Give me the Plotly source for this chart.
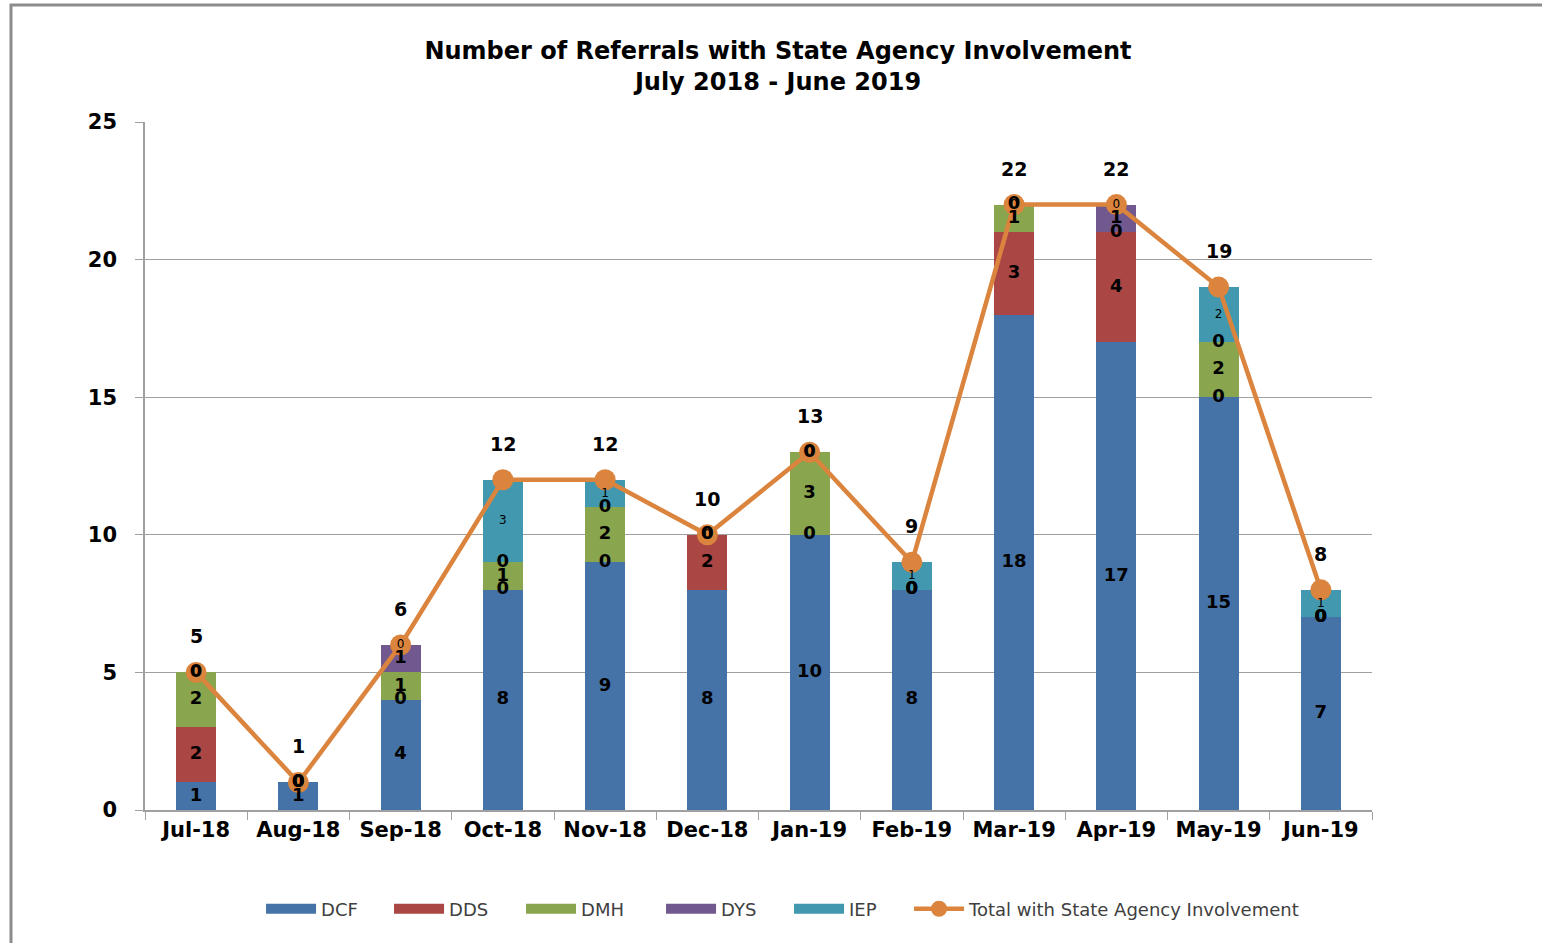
import plotly.graph_objects as go

months = ["Jul-18", "Aug-18", "Sep-18", "Oct-18", "Nov-18", "Dec-18",
          "Jan-19", "Feb-19", "Mar-19", "Apr-19", "May-19", "Jun-19"]
dcf = [1, 1, 4, 8, 9, 8, 10, 8, 18, 17, 15, 7]
dds = [2, 0, 0, 0, 0, 2, 0, 0, 3, 4, 0, 0]
dmh = [2, 0, 1, 1, 2, 0, 3, 0, 1, 0, 2, 0]
dys = [0, 0, 1, 0, 0, 0, 0, 0, 0, 1, 0, 0]
iep = [0, 0, 0, 3, 1, 0, 0, 1, 0, 0, 2, 1]
total = [5, 1, 6, 12, 12, 10, 13, 9, 22, 22, 19, 8]
y_ticks = [0, 5, 10, 15, 20, 25]

series = [("DCF", dcf, "#4572A7"), ("DDS", dds, "#AA4643"), ("DMH", dmh, "#89A54E"),
          ("DYS", dys, "#71588F"), ("IEP", iep, "#4198AF")]
legend_widths = {"DCF": 63, "DDS": 67, "DMH": 75, "DYS": 63, "IEP": 55}
LINE_COLOR = "#DB843D"

FONT = "DejaVu Sans"
fig = go.Figure()

base = [0] * len(months)
label_traces = []
for name, vals, color in series:
    fig.add_trace(go.Bar(x=months, y=vals, name=name, marker_color=color,
                         marker_line_width=0, showlegend=False, legendgroup=name))
    # legend proxy with a wide swatch
    fig.add_trace(go.Scatter(x=[None], y=[None], mode="lines", name=name,
                             line=dict(color=color, width=10), legendgroup=name,
                             legendwidth=legend_widths[name], hoverinfo="skip"))
    mids = [b + v / 2 for b, v in zip(base, vals)]
    small = name == "IEP"
    label_traces.append(go.Scatter(
        x=months, y=mids, mode="text", text=[str(v) for v in vals],
        textfont=dict(family=FONT, size=12 if small else 18, color="#000000",
                      weight="normal" if small else "bold"),
        showlegend=False, hoverinfo="skip", cliponaxis=False))
    base = [b + v for b, v in zip(base, vals)]

fig.add_trace(go.Scatter(x=months, y=total, mode="lines+markers",
                         name="Total with State Agency Involvement",
                         line=dict(color=LINE_COLOR, width=4.5),
                         marker=dict(size=21, color=LINE_COLOR), cliponaxis=False))
for t in label_traces:
    fig.add_trace(t)

for m, t in zip(months, total):
    fig.add_annotation(x=m, y=t, text=str(t), showarrow=False, yshift=36,
                       font=dict(family=FONT, size=19, color="#000000", weight="bold"))

fig.update_layout(
    width=1542, height=943,
    paper_bgcolor="white", plot_bgcolor="white",
    barmode="stack", bargap=0.61,
    margin=dict(l=145, r=170, t=122, b=133),
    title=dict(text="Number of Referrals with State Agency Involvement<br>July 2018 - June 2019",
               x=778 / 1542, xanchor="center", y=1 - 59 / 943, yanchor="middle",
               font=dict(family=FONT, size=24, color="#000000", weight="bold")),
    legend=dict(orientation="h", x=0.52, xanchor="center", y=-0.144, yanchor="middle",
                font=dict(family=FONT, size=18, color="#404040"),
                traceorder="normal", itemwidth=50),
    shapes=[dict(type="rect", xref="paper", yref="paper",
                 x0=(11 - 145) / 1227, x1=(1560 - 145) / 1227,
                 y0=(810 - 960) / 688, y1=(810 - 5) / 688,
                 line=dict(color="#8C8C8C", width=3), fillcolor="rgba(0,0,0,0)")],
)
fig.update_xaxes(type="category", range=[-0.5, len(months) - 0.5],
                 tickson="boundaries", ticks="outside", ticklen=8,
                 tickcolor="#A0A0A0", showline=True, linecolor="#A0A0A0", linewidth=1.5,
                 showgrid=False,
                 tickfont=dict(family=FONT, size=21, color="#000000", weight="bold"))
fig.update_yaxes(range=[0, 25], tickvals=y_ticks, ticks="outside", ticklen=8,
                 tickcolor="#A0A0A0", showline=True, linecolor="#A0A0A0", linewidth=1.5,
                 gridcolor="#A0A0A0", gridwidth=1, zeroline=False, ticklabelstandoff=14,
                 tickfont=dict(family=FONT, size=21, color="#000000", weight="bold"))

fig.write_html("out.html", config={"displayModeBar": False},
               post_script="document.body.style.margin='0';")
